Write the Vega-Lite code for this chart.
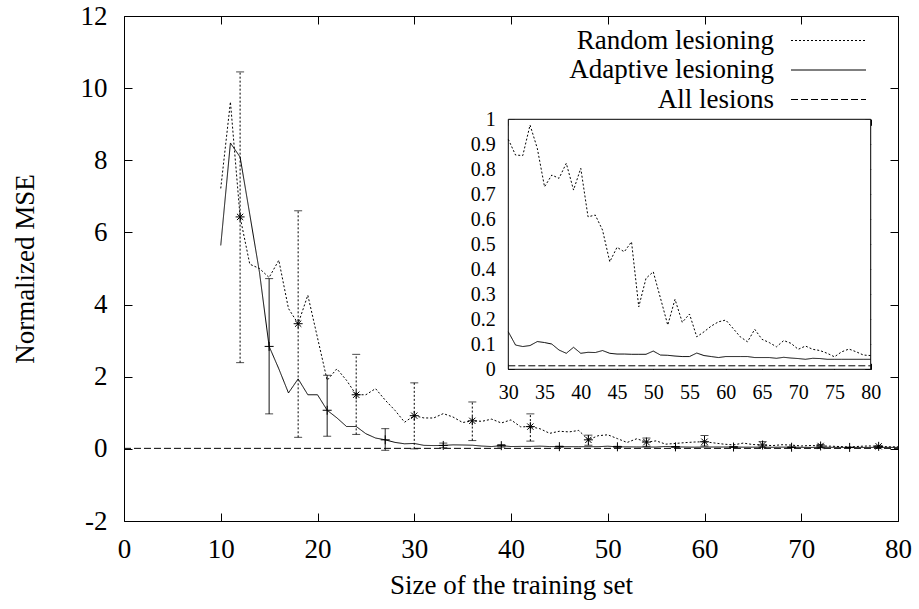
{
  "$schema": "https://vega.github.io/schema/vega-lite/v6.json",
  "width": 774,
  "height": 505,
  "autosize": {"type": "none"},
  "padding": {"left": 124, "top": 16, "right": 21, "bottom": 88},
  "background": "white",
  "config": {
    "view": {"stroke": "black", "strokeWidth": 1},
    "font": "Liberation Serif",
    "axis": {"grid": false, "domain": false, "labelColor": "black", "tickColor": "black", "titleColor": "black", "labelFont": "Liberation Serif", "titleFont": "Liberation Serif", "titleFontWeight": "normal", "labelFlush": false, "labelOverlap": false, "labelBound": false, "tickWidth": 1}
  },
  "datasets": {
    "lines": [
      {"series": "Random lesioning", "size": 10, "mse": 7.22}, {"series": "Random lesioning", "size": 11, "mse": 9.62}, {"series": "Random lesioning", "size": 12, "mse": 6.43}, {"series": "Random lesioning", "size": 13, "mse": 5.12}, {"series": "Random lesioning", "size": 14, "mse": 5.0}, {"series": "Random lesioning", "size": 15, "mse": 4.75}, {"series": "Random lesioning", "size": 16, "mse": 5.23}, {"series": "Random lesioning", "size": 17, "mse": 3.89}, {"series": "Random lesioning", "size": 18, "mse": 3.47}, {"series": "Random lesioning", "size": 19, "mse": 4.26}, {"series": "Random lesioning", "size": 20, "mse": 3.08}, {"series": "Random lesioning", "size": 21, "mse": 1.9}, {"series": "Random lesioning", "size": 22, "mse": 2.22}, {"series": "Random lesioning", "size": 23, "mse": 1.9}, {"series": "Random lesioning", "size": 24, "mse": 1.5}, {"series": "Random lesioning", "size": 25, "mse": 1.5}, {"series": "Random lesioning", "size": 26, "mse": 1.67}, {"series": "Random lesioning", "size": 27, "mse": 1.35}, {"series": "Random lesioning", "size": 28, "mse": 1.07}, {"series": "Random lesioning", "size": 29, "mse": 0.74},
      {"series": "Random lesioning", "size": 30, "mse": 0.92}, {"series": "Random lesioning", "size": 31, "mse": 0.857}, {"series": "Random lesioning", "size": 32, "mse": 0.855}, {"series": "Random lesioning", "size": 33, "mse": 0.977}, {"series": "Random lesioning", "size": 34, "mse": 0.884}, {"series": "Random lesioning", "size": 35, "mse": 0.73}, {"series": "Random lesioning", "size": 36, "mse": 0.777}, {"series": "Random lesioning", "size": 37, "mse": 0.764}, {"series": "Random lesioning", "size": 38, "mse": 0.824}, {"series": "Random lesioning", "size": 39, "mse": 0.717}, {"series": "Random lesioning", "size": 40, "mse": 0.804}, {"series": "Random lesioning", "size": 41, "mse": 0.61}, {"series": "Random lesioning", "size": 42, "mse": 0.617}, {"series": "Random lesioning", "size": 43, "mse": 0.557}, {"series": "Random lesioning", "size": 44, "mse": 0.43}, {"series": "Random lesioning", "size": 45, "mse": 0.488}, {"series": "Random lesioning", "size": 46, "mse": 0.47}, {"series": "Random lesioning", "size": 47, "mse": 0.51}, {"series": "Random lesioning", "size": 48, "mse": 0.25}, {"series": "Random lesioning", "size": 49, "mse": 0.364}, {"series": "Random lesioning", "size": 50, "mse": 0.39}, {"series": "Random lesioning", "size": 51, "mse": 0.284}, {"series": "Random lesioning", "size": 52, "mse": 0.177}, {"series": "Random lesioning", "size": 53, "mse": 0.28}, {"series": "Random lesioning", "size": 54, "mse": 0.188}, {"series": "Random lesioning", "size": 55, "mse": 0.221}, {"series": "Random lesioning", "size": 56, "mse": 0.13}, {"series": "Random lesioning", "size": 57, "mse": 0.15}, {"series": "Random lesioning", "size": 58, "mse": 0.173}, {"series": "Random lesioning", "size": 59, "mse": 0.19}, {"series": "Random lesioning", "size": 60, "mse": 0.197}, {"series": "Random lesioning", "size": 61, "mse": 0.164}, {"series": "Random lesioning", "size": 62, "mse": 0.13}, {"series": "Random lesioning", "size": 63, "mse": 0.11}, {"series": "Random lesioning", "size": 64, "mse": 0.16}, {"series": "Random lesioning", "size": 65, "mse": 0.12}, {"series": "Random lesioning", "size": 66, "mse": 0.107}, {"series": "Random lesioning", "size": 67, "mse": 0.09}, {"series": "Random lesioning", "size": 68, "mse": 0.115}, {"series": "Random lesioning", "size": 69, "mse": 0.104}, {"series": "Random lesioning", "size": 70, "mse": 0.08}, {"series": "Random lesioning", "size": 71, "mse": 0.093}, {"series": "Random lesioning", "size": 72, "mse": 0.08}, {"series": "Random lesioning", "size": 73, "mse": 0.075}, {"series": "Random lesioning", "size": 74, "mse": 0.064}, {"series": "Random lesioning", "size": 75, "mse": 0.05}, {"series": "Random lesioning", "size": 76, "mse": 0.07}, {"series": "Random lesioning", "size": 77, "mse": 0.081}, {"series": "Random lesioning", "size": 78, "mse": 0.07}, {"series": "Random lesioning", "size": 79, "mse": 0.057}, {"series": "Random lesioning", "size": 80, "mse": 0.055},
      {"series": "Adaptive lesioning", "size": 10, "mse": 5.64}, {"series": "Adaptive lesioning", "size": 11, "mse": 8.48}, {"series": "Adaptive lesioning", "size": 12, "mse": 8.09}, {"series": "Adaptive lesioning", "size": 13, "mse": 6.5}, {"series": "Adaptive lesioning", "size": 14, "mse": 4.9}, {"series": "Adaptive lesioning", "size": 15, "mse": 2.84}, {"series": "Adaptive lesioning", "size": 16, "mse": 2.22}, {"series": "Adaptive lesioning", "size": 17, "mse": 1.55}, {"series": "Adaptive lesioning", "size": 18, "mse": 1.94}, {"series": "Adaptive lesioning", "size": 19, "mse": 1.5}, {"series": "Adaptive lesioning", "size": 20, "mse": 1.5}, {"series": "Adaptive lesioning", "size": 21, "mse": 1.07}, {"series": "Adaptive lesioning", "size": 22, "mse": 0.86}, {"series": "Adaptive lesioning", "size": 23, "mse": 0.62}, {"series": "Adaptive lesioning", "size": 24, "mse": 0.62}, {"series": "Adaptive lesioning", "size": 25, "mse": 0.42}, {"series": "Adaptive lesioning", "size": 26, "mse": 0.3}, {"series": "Adaptive lesioning", "size": 27, "mse": 0.25}, {"series": "Adaptive lesioning", "size": 28, "mse": 0.18}, {"series": "Adaptive lesioning", "size": 29, "mse": 0.14},
      {"series": "Adaptive lesioning", "size": 30, "mse": 0.15}, {"series": "Adaptive lesioning", "size": 31, "mse": 0.097}, {"series": "Adaptive lesioning", "size": 32, "mse": 0.091}, {"series": "Adaptive lesioning", "size": 33, "mse": 0.095}, {"series": "Adaptive lesioning", "size": 34, "mse": 0.111}, {"series": "Adaptive lesioning", "size": 35, "mse": 0.107}, {"series": "Adaptive lesioning", "size": 36, "mse": 0.101}, {"series": "Adaptive lesioning", "size": 37, "mse": 0.077}, {"series": "Adaptive lesioning", "size": 38, "mse": 0.064}, {"series": "Adaptive lesioning", "size": 39, "mse": 0.088}, {"series": "Adaptive lesioning", "size": 40, "mse": 0.064}, {"series": "Adaptive lesioning", "size": 41, "mse": 0.068}, {"series": "Adaptive lesioning", "size": 42, "mse": 0.067}, {"series": "Adaptive lesioning", "size": 43, "mse": 0.075}, {"series": "Adaptive lesioning", "size": 44, "mse": 0.064}, {"series": "Adaptive lesioning", "size": 45, "mse": 0.061}, {"series": "Adaptive lesioning", "size": 46, "mse": 0.061}, {"series": "Adaptive lesioning", "size": 47, "mse": 0.06}, {"series": "Adaptive lesioning", "size": 48, "mse": 0.06}, {"series": "Adaptive lesioning", "size": 49, "mse": 0.06}, {"series": "Adaptive lesioning", "size": 50, "mse": 0.073}, {"series": "Adaptive lesioning", "size": 51, "mse": 0.057}, {"series": "Adaptive lesioning", "size": 52, "mse": 0.056}, {"series": "Adaptive lesioning", "size": 53, "mse": 0.053}, {"series": "Adaptive lesioning", "size": 54, "mse": 0.051}, {"series": "Adaptive lesioning", "size": 55, "mse": 0.051}, {"series": "Adaptive lesioning", "size": 56, "mse": 0.065}, {"series": "Adaptive lesioning", "size": 57, "mse": 0.055}, {"series": "Adaptive lesioning", "size": 58, "mse": 0.051}, {"series": "Adaptive lesioning", "size": 59, "mse": 0.047}, {"series": "Adaptive lesioning", "size": 60, "mse": 0.051}, {"series": "Adaptive lesioning", "size": 61, "mse": 0.051}, {"series": "Adaptive lesioning", "size": 62, "mse": 0.051}, {"series": "Adaptive lesioning", "size": 63, "mse": 0.051}, {"series": "Adaptive lesioning", "size": 64, "mse": 0.047}, {"series": "Adaptive lesioning", "size": 65, "mse": 0.047}, {"series": "Adaptive lesioning", "size": 66, "mse": 0.047}, {"series": "Adaptive lesioning", "size": 67, "mse": 0.044}, {"series": "Adaptive lesioning", "size": 68, "mse": 0.048}, {"series": "Adaptive lesioning", "size": 69, "mse": 0.045}, {"series": "Adaptive lesioning", "size": 70, "mse": 0.043}, {"series": "Adaptive lesioning", "size": 71, "mse": 0.04}, {"series": "Adaptive lesioning", "size": 72, "mse": 0.044}, {"series": "Adaptive lesioning", "size": 73, "mse": 0.043}, {"series": "Adaptive lesioning", "size": 74, "mse": 0.04}, {"series": "Adaptive lesioning", "size": 75, "mse": 0.04}, {"series": "Adaptive lesioning", "size": 76, "mse": 0.04}, {"series": "Adaptive lesioning", "size": 77, "mse": 0.04}, {"series": "Adaptive lesioning", "size": 78, "mse": 0.04}, {"series": "Adaptive lesioning", "size": 79, "mse": 0.04}, {"series": "Adaptive lesioning", "size": 80, "mse": 0.04},
      {"series": "All lesions", "size": 0, "mse": 0.014}, {"series": "All lesions", "size": 30, "mse": 0.014}, {"series": "All lesions", "size": 80, "mse": 0.014}
    ],
    "bars": [
      {"series": "Random lesioning", "size": 12, "mean": 6.43, "lo": 2.39, "hi": 10.45},
      {"series": "Random lesioning", "size": 18, "mean": 3.47, "lo": 0.32, "hi": 6.6},
      {"series": "Random lesioning", "size": 24, "mean": 1.5, "lo": 0.4, "hi": 2.62},
      {"series": "Random lesioning", "size": 30, "mean": 0.92, "lo": 0.0, "hi": 1.83},
      {"series": "Random lesioning", "size": 36, "mean": 0.777, "lo": 0.23, "hi": 1.3},
      {"series": "Random lesioning", "size": 42, "mean": 0.617, "lo": 0.215, "hi": 0.97},
      {"series": "Random lesioning", "size": 48, "mean": 0.25, "lo": 0.1, "hi": 0.38},
      {"series": "Random lesioning", "size": 54, "mean": 0.188, "lo": 0.07, "hi": 0.3},
      {"series": "Random lesioning", "size": 60, "mean": 0.197, "lo": 0.08, "hi": 0.37},
      {"series": "Random lesioning", "size": 66, "mean": 0.107, "lo": 0.05, "hi": 0.2},
      {"series": "Random lesioning", "size": 72, "mean": 0.08, "lo": 0.04, "hi": 0.12},
      {"series": "Random lesioning", "size": 78, "mean": 0.07, "lo": 0.04, "hi": 0.09},
      {"series": "Adaptive lesioning", "size": 15, "mean": 2.84, "lo": 0.97, "hi": 4.72},
      {"series": "Adaptive lesioning", "size": 21, "mean": 1.07, "lo": 0.35, "hi": 2.04},
      {"series": "Adaptive lesioning", "size": 27, "mean": 0.25, "lo": -0.04, "hi": 0.56},
      {"series": "Adaptive lesioning", "size": 33, "mean": 0.095, "lo": 0.03, "hi": 0.16},
      {"series": "Adaptive lesioning", "size": 39, "mean": 0.088, "lo": 0.05, "hi": 0.12},
      {"series": "Adaptive lesioning", "size": 45, "mean": 0.061, "lo": 0.05, "hi": 0.075},
      {"series": "Adaptive lesioning", "size": 51, "mean": 0.057, "lo": 0.045, "hi": 0.07},
      {"series": "Adaptive lesioning", "size": 57, "mean": 0.055, "lo": 0.045, "hi": 0.065},
      {"series": "Adaptive lesioning", "size": 63, "mean": 0.051, "lo": 0.043, "hi": 0.06},
      {"series": "Adaptive lesioning", "size": 69, "mean": 0.045, "lo": 0.04, "hi": 0.05},
      {"series": "Adaptive lesioning", "size": 75, "mean": 0.04, "lo": 0.035, "hi": 0.045}
    ]
  },
  "layer": [
    {
      "data": {"name": "lines"},
      "mark": {"type": "line", "color": "black", "strokeWidth": 1},
      "encoding": {
        "x": {"field": "size", "type": "quantitative", "scale": {"domain": [0, 80], "nice": false, "zero": false},
          "axis": {"orient": "bottom", "values": [0, 10, 20, 30, 40, 50, 60, 70, 80], "tickSize": -8, "labelPadding": 23, "labelFont": "Liberation Serif", "labelFontSize": 27, "title": "Size of the training set", "titleFont": "Liberation Serif", "titleFontSize": 27, "titlePadding": 10}},
        "y": {"field": "mse", "type": "quantitative", "scale": {"domain": [-2, 12], "nice": false, "zero": false},
          "axis": {"orient": "left", "values": [-2, 0, 2, 4, 6, 8, 10, 12], "labelExpr": "'' + datum.value", "tickSize": -8, "labelPadding": 25, "labelFont": "Liberation Serif", "labelFontSize": 27, "title": "Normalized MSE", "titleFont": "Liberation Serif", "titleFontSize": 27, "titlePadding": 41}},
        "strokeDash": {"field": "series", "type": "nominal",
          "scale": {"domain": ["Random lesioning", "Adaptive lesioning", "All lesions"], "range": [[2, 2], [1, 0], [7, 3]]},
          "legend": {"orient": "none", "legendX": 691, "legendY": 11, "title": null, "symbolType": "M-3,0H3", "symbolSize": 625, "symbolStrokeWidth": 1, "symbolStrokeColor": "black", "symbolFillColor": "transparent", "labelFont": "Liberation Serif", "labelFontSize": 27, "labelColor": "black", "labelAlign": "right", "labelOffset": -68, "labelLimit": 0, "padding": 0, "rowPadding": 1.5}}
      }
    },
    {
      "data": {"name": "bars"},
      "mark": {"type": "rule", "color": "black", "strokeWidth": 1},
      "encoding": {
        "x": {"field": "size", "type": "quantitative", "scale": {"domain": [0, 80], "nice": false, "zero": false},
          "axis": {"orient": "top", "values": [0, 10, 20, 30, 40, 50, 60, 70, 80], "tickSize": -8, "labels": false, "title": null}},
        "y": {"field": "lo", "type": "quantitative", "scale": {"domain": [-2, 12], "nice": false, "zero": false},
          "axis": {"orient": "right", "values": [-2, 0, 2, 4, 6, 8, 10, 12], "tickSize": -8, "labels": false, "title": null}},
        "y2": {"field": "hi"},
        "strokeDash": {"field": "series", "type": "nominal"}
      }
    },
    {
      "data": {"name": "bars"},
      "mark": {"type": "tick", "orient": "horizontal", "color": "black", "size": 8, "thickness": 1},
      "encoding": {
        "x": {"field": "size", "type": "quantitative", "scale": {"domain": [0, 80], "nice": false, "zero": false}, "axis": null},
        "y": {"field": "lo", "type": "quantitative", "scale": {"domain": [-2, 12], "nice": false, "zero": false}, "axis": null}
      }
    },
    {
      "data": {"name": "bars"},
      "mark": {"type": "tick", "orient": "horizontal", "color": "black", "size": 8, "thickness": 1},
      "encoding": {
        "x": {"field": "size", "type": "quantitative", "scale": {"domain": [0, 80], "nice": false, "zero": false}, "axis": null},
        "y": {"field": "hi", "type": "quantitative", "scale": {"domain": [-2, 12], "nice": false, "zero": false}, "axis": null}
      }
    },
    {
      "data": {"name": "bars"},
      "mark": {"type": "point", "filled": false, "stroke": "black", "strokeWidth": 1, "size": 81, "opacity": 1},
      "encoding": {
        "x": {"field": "size", "type": "quantitative", "scale": {"domain": [0, 80], "nice": false, "zero": false}, "axis": null},
        "y": {"field": "mean", "type": "quantitative", "scale": {"domain": [-2, 12], "nice": false, "zero": false}, "axis": null},
        "shape": {"field": "series", "type": "nominal", "legend": null,
          "scale": {"domain": ["Random lesioning", "Adaptive lesioning"], "range": ["M-1,0L1,0M0,-1L0,1M-0.7,-0.7L0.7,0.7M-0.7,0.7L0.7,-0.7", "M-1,0L1,0M0,-1L0,1"]}}
      }
    },
    {
      "data": {"values": [{}]},
      "mark": {"type": "rect", "fill": "white", "stroke": "black", "strokeWidth": 1},
      "encoding": {
        "x": {"datum": 30, "type": "quantitative", "scale": {"domain": [30, 80], "range": [384.3, 746.7], "nice": false, "zero": false},
          "axis": {"orient": "bottom", "offset": -151.7, "values": [30, 35, 40, 45, 50, 55, 60, 65, 70, 75, 80], "tickSize": -6, "labelPadding": 19, "labelFont": "Liberation Serif", "labelFontSize": 20, "title": null}},
        "x2": {"datum": 80},
        "y": {"datum": 0, "type": "quantitative", "scale": {"domain": [0, 1], "range": [353.3, 103.3], "nice": false, "zero": false},
          "axis": {"orient": "left", "offset": -384.3, "values": [0, 0.1, 0.2, 0.3, 0.4, 0.5, 0.6, 0.7, 0.8, 0.9, 1], "format": "~g", "tickSize": -6, "labelPadding": 19, "labelFont": "Liberation Serif", "labelFontSize": 20, "title": null}},
        "y2": {"datum": 1}
      }
    },
    {
      "data": {"name": "lines"},
      "transform": [{"filter": "datum.size >= 30"}],
      "mark": {"type": "line", "color": "black", "strokeWidth": 1},
      "encoding": {
        "x": {"field": "size", "type": "quantitative", "scale": {"domain": [30, 80], "range": [384.3, 746.7], "nice": false, "zero": false},
          "axis": {"orient": "top", "offset": -103.3, "values": [30, 35, 40, 45, 50, 55, 60, 65, 70, 75, 80], "tickSize": -6, "labels": false, "title": null}},
        "y": {"field": "mse", "type": "quantitative", "scale": {"domain": [0, 1], "range": [353.3, 103.3], "nice": false, "zero": false},
          "axis": {"orient": "right", "offset": -27.3, "values": [0, 0.1, 0.2, 0.3, 0.4, 0.5, 0.6, 0.7, 0.8, 0.9, 1], "tickSize": -6, "labels": false, "title": null}},
        "strokeDash": {"field": "series", "type": "nominal"}
      }
    }
  ],
  "resolve": {"scale": {"x": "independent", "y": "independent"}, "axis": {"x": "independent", "y": "independent"}}
}
